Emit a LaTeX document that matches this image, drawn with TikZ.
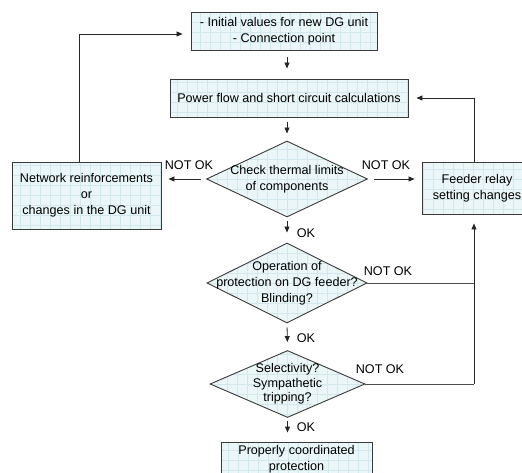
\documentclass[tikz,border=0pt]{standalone}
\usepackage{fontspec}
\setmainfont{Liberation Sans}
\usetikzlibrary{shapes.geometric,arrows.meta}
\definecolor{boxfill}{HTML}{EAF6F8}
\definecolor{gridc}{HTML}{D3E8EC}
\definecolor{edge}{HTML}{3A3A3A}
\begin{document}
\begin{tikzpicture}[x=1pt,y=-1pt,
  font=\fontsize{12.6}{16}\selectfont,
  gridfill/.style={fill=boxfill,
    path picture={\draw[gridc,line width=0.3pt,step=10pt]
      (path picture bounding box.south west) grid (path picture bounding box.north east);}},
  box/.style={rectangle,draw=edge,line width=0.9pt,gridfill,align=center,inner sep=2pt},
  dia/.style={diamond,draw=edge,line width=0.9pt,gridfill,inner sep=0pt},
  arr/.style={-{Triangle[length=6pt,width=5pt]},line width=0.8pt,draw=black!85},
  ln/.style={line width=0.8pt,draw=black!70},
  lbl/.style={inner sep=1pt}]
\useasboundingbox (0,0) rectangle (522,473);

\node[box,minimum width=186pt,minimum height=38pt] (init) at (284,31)
  {- Initial values for new DG unit\\- Connection point};
\node[box,minimum width=238pt,minimum height=38pt] (pf) at (289,98)
  {Power flow and short circuit calculations};
\node[dia,minimum width=161pt,minimum height=76pt,
  label={[name=d1t,align=center]center:{Check thermal limits\\of components}}] (d1) at (287,179) {};
\node[box,minimum width=149pt,minimum height=67pt] (net) at (86.5,195.5)
  {Network reinforcements\\or\\changes in the DG unit};
\node[box,minimum width=110pt,minimum height=52pt] (feeder) at (477,188)
  {Feeder relay\\setting changes};
\node[dia,minimum width=160pt,minimum height=80pt,
  label={[name=d2t,align=center]center:{Operation of\\protection on DG feeder?\\Blinding?}}] (d2) at (287,283) {};
\node[dia,minimum width=155pt,minimum height=67pt,
  label={[name=d3t,align=center,font=\fontsize{12.6}{14.5}\selectfont]center:{Selectivity?\\Sympathetic\\tripping?}}] (d3) at (287.5,384) {};
\node[box,minimum width=151pt,minimum height=34pt,inner sep=1pt] (prop) at (296.5,459)
  {Properly coordinated\\protection};

% main vertical flow
\draw[arr,shorten <=7pt,shorten >=10pt] (d1.north |- init.south) -- (d1.north |- pf.north);
\draw[arr,shorten <=5pt,shorten >=7pt] (d1.north |- pf.south) -- (d1.north);
\draw[arr,shorten <=4pt,shorten >=10pt] (d1.south) -- (d2.north);
\node[lbl] (ok1) at (306,233) {OK};
\draw[arr,shorten <=4pt,shorten >=8pt] (d2.south) -- (d3.north);
\node[lbl] (ok2) at (306,338) {OK};
\draw[arr,shorten <=3pt,shorten >=9pt] (d3.south) -- (d3.south |- prop.north);
\node[lbl] (ok3) at (306,427) {OK};

% side branches of first decision
\draw[arr,shorten <=5pt,shorten >=7pt] (d1.west) -- (net.east |- d1.west);
\node[lbl] (nok1) at (189,165) {NOT OK};
\draw[arr,shorten <=6pt,shorten >=7pt] (d1.east) -- (feeder.west |- d1.east);
\node[lbl] (nok2) at (386,165) {NOT OK};

% loops back
\draw[arr,shorten >=8pt] ([xshift=-7.5pt]net.north) |- ([yshift=-3pt]init.west);
\draw[arr,shorten >=8pt] ([xshift=-3pt]feeder.north) |- (pf.east);

% other NOT OK branches to feeder relay
\coordinate (c2) at ([xshift=-3pt]feeder.south |- d2.east);
\coordinate (c3) at ([xshift=-3pt]feeder.south |- d3.east);
\draw[ln] (d2.east) -- (c2);
\draw[ln] (d3.east) -- (c3);
\draw[arr,shorten >=9pt] (c3) -- ([xshift=-3pt]feeder.south);
\node[lbl] (nok3) at (388,271) {NOT OK};
\node[lbl] (nok4) at (380,369) {NOT OK};
\end{tikzpicture}
\end{document}
